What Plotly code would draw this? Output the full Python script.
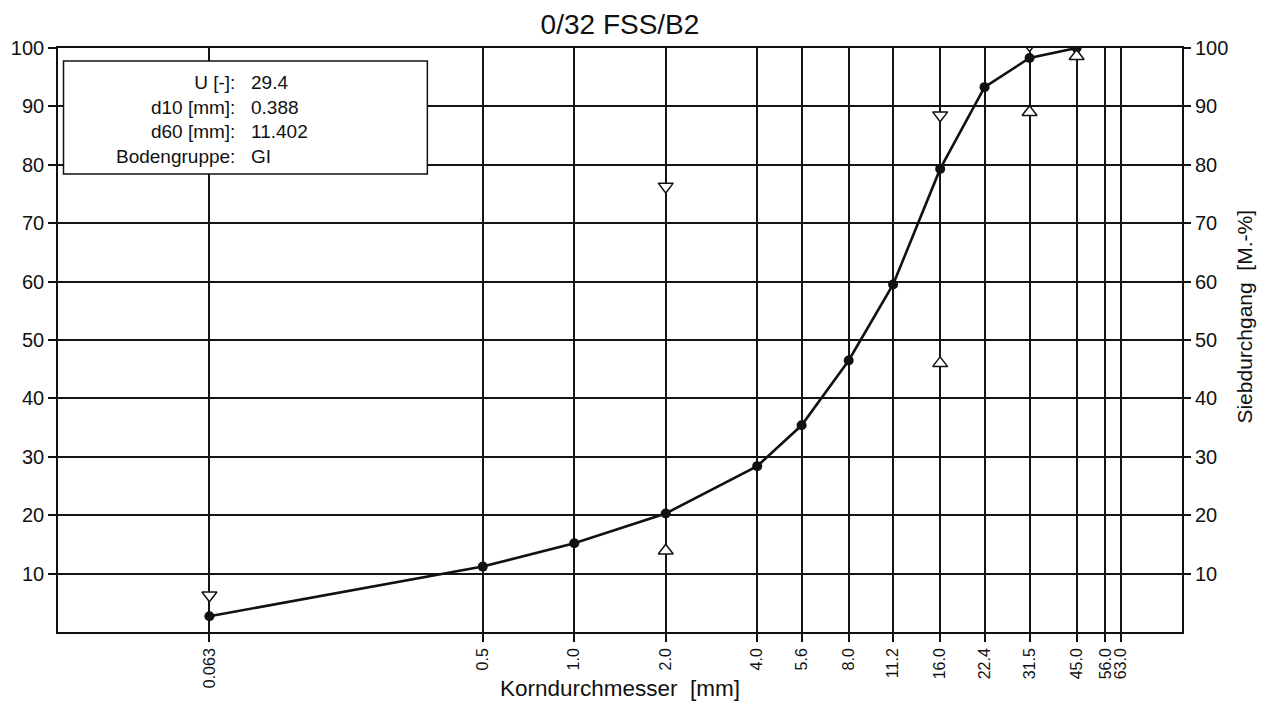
import plotly.graph_objects as go

# ---- data ----
sieve_sizes = [0.063, 0.5, 1.0, 2.0, 4.0, 5.6, 8.0, 11.2, 16.0, 22.4, 31.5, 45.0]
passing = [2.7, 11.2, 15.2, 20.3, 28.4, 35.4, 46.5, 59.5, 79.3, 93.3, 98.3, 100.0]

upper_limit_sizes = [0.063, 2.0, 16.0, 31.5]
upper_limit_values = [6.3, 76.3, 88.5, 100.5]
lower_limit_sizes = [2.0, 16.0, 31.5, 45.0]
lower_limit_values = [13.9, 46.0, 89.0, 98.6]

x_tick_vals = [0.063, 0.5, 1.0, 2.0, 4.0, 5.6, 8.0, 11.2, 16.0, 22.4, 31.5, 45.0, 56.0, 63.0]
x_tick_text = ["0.063", "0.5", "1.0", "2.0", "4.0", "5.6", "8.0", "11.2", "16.0", "22.4", "31.5", "45.0", "56.0", "63.0"]
y_tick_vals = [10, 20, 30, 40, 50, 60, 70, 80, 90, 100]

info_labels = ["U [-]:", "d10 [mm]:", "d60 [mm]:", "Bodengruppe:"]
info_values = ["29.4", "0.388", "11.402", "GI"]

title_text = "0/32 FSS/B2"
x_title = "Korndurchmesser  [mm]"
y_title = "Siebdurchgang  [M.-%]"

FONT = "Arial, Liberation Sans, sans-serif"
INK = "#111111"

fig = go.Figure()

fig.add_trace(go.Scatter(
    x=sieve_sizes, y=passing, mode="lines+markers",
    line=dict(color=INK, width=2.6),
    marker=dict(color=INK, size=10, symbol="circle"),
    showlegend=False, hoverinfo="x+y"))

fig.add_trace(go.Scatter(
    x=upper_limit_sizes, y=upper_limit_values, mode="markers",
    marker=dict(symbol="triangle-down", size=13, color="white",
                line=dict(color=INK, width=1.5)),
    showlegend=False))

fig.add_trace(go.Scatter(
    x=lower_limit_sizes, y=lower_limit_values, mode="markers",
    marker=dict(symbol="triangle-up", size=13, color="white",
                line=dict(color=INK, width=1.5)),
    showlegend=False))

# invisible trace so the right axis is drawn
fig.add_trace(go.Scatter(x=[sieve_sizes[0]], y=[passing[0]], yaxis="y2",
                         mode="markers", marker=dict(opacity=0),
                         showlegend=False, hoverinfo="skip"))

axis_common = dict(
    showline=True, linecolor=INK, linewidth=1.6,
    showgrid=True, gridcolor="#151515", gridwidth=1.6,
    ticks="outside", ticklen=8, tickwidth=1.5, tickcolor=INK,
    zeroline=False,
)

fig.update_layout(
    width=1261, height=704,
    margin=dict(l=58, r=79, t=48, b=72),
    paper_bgcolor="white", plot_bgcolor="white",
    font=dict(family=FONT, color=INK),
    title=dict(text=title_text, x=0.5, xref="paper", y=0.966, yref="container",
               yanchor="middle", xanchor="center",
               font=dict(size=28, family=FONT, color=INK)),
    xaxis=dict(type="log", range=[-1.699, 2.0], tickvals=x_tick_vals,
               ticktext=x_tick_text, tickangle=-90,
               tickfont=dict(size=16, family=FONT, color=INK),
               mirror=True, **axis_common),
    yaxis=dict(range=[0, 100], tickvals=y_tick_vals,
               tickfont=dict(size=20, family=FONT, color=INK),
               mirror=True, **axis_common),
    yaxis2=dict(range=[0, 100], tickvals=y_tick_vals, overlaying="y", side="right",
                tickfont=dict(size=20, family=FONT, color=INK),
                showgrid=False, showline=False, ticks="outside", ticklen=8,
                tickwidth=1.5, tickcolor=INK, zeroline=False),
    showlegend=False,
)

# info box
fig.add_shape(type="rect", xref="paper", yref="paper",
              x0=0.0049, x1=0.3286, y0=0.7842, y1=0.9777,
              line=dict(color=INK, width=1.5), fillcolor="white", layer="above")
fig.add_annotation(xref="paper", yref="paper", x=0.1590, y=0.8784,
                   xanchor="right", yanchor="middle", align="right",
                   text="<br>".join(info_labels), showarrow=False,
                   font=dict(size=19, family=FONT, color=INK))
fig.add_annotation(xref="paper", yref="paper", x=0.1700, y=0.8784,
                   xanchor="left", yanchor="middle", align="left",
                   text="<br>".join(info_values), showarrow=False,
                   font=dict(size=19, family=FONT, color=INK))

# axis titles
fig.add_annotation(xref="paper", yref="paper", x=0.5, y=-0.096,
                   xanchor="center", yanchor="middle", text=x_title, showarrow=False,
                   font=dict(size=22.5, family=FONT, color=INK))
fig.add_annotation(xref="paper", yref="paper", x=1.056, y=0.54,
                   xanchor="center", yanchor="middle", text=y_title, showarrow=False,
                   textangle=-90, font=dict(size=21, family=FONT, color=INK))

fig.write_html("out.html", config={"displayModeBar": False},
               post_script="document.body.style.margin='0';document.body.style.overflow='hidden';")
